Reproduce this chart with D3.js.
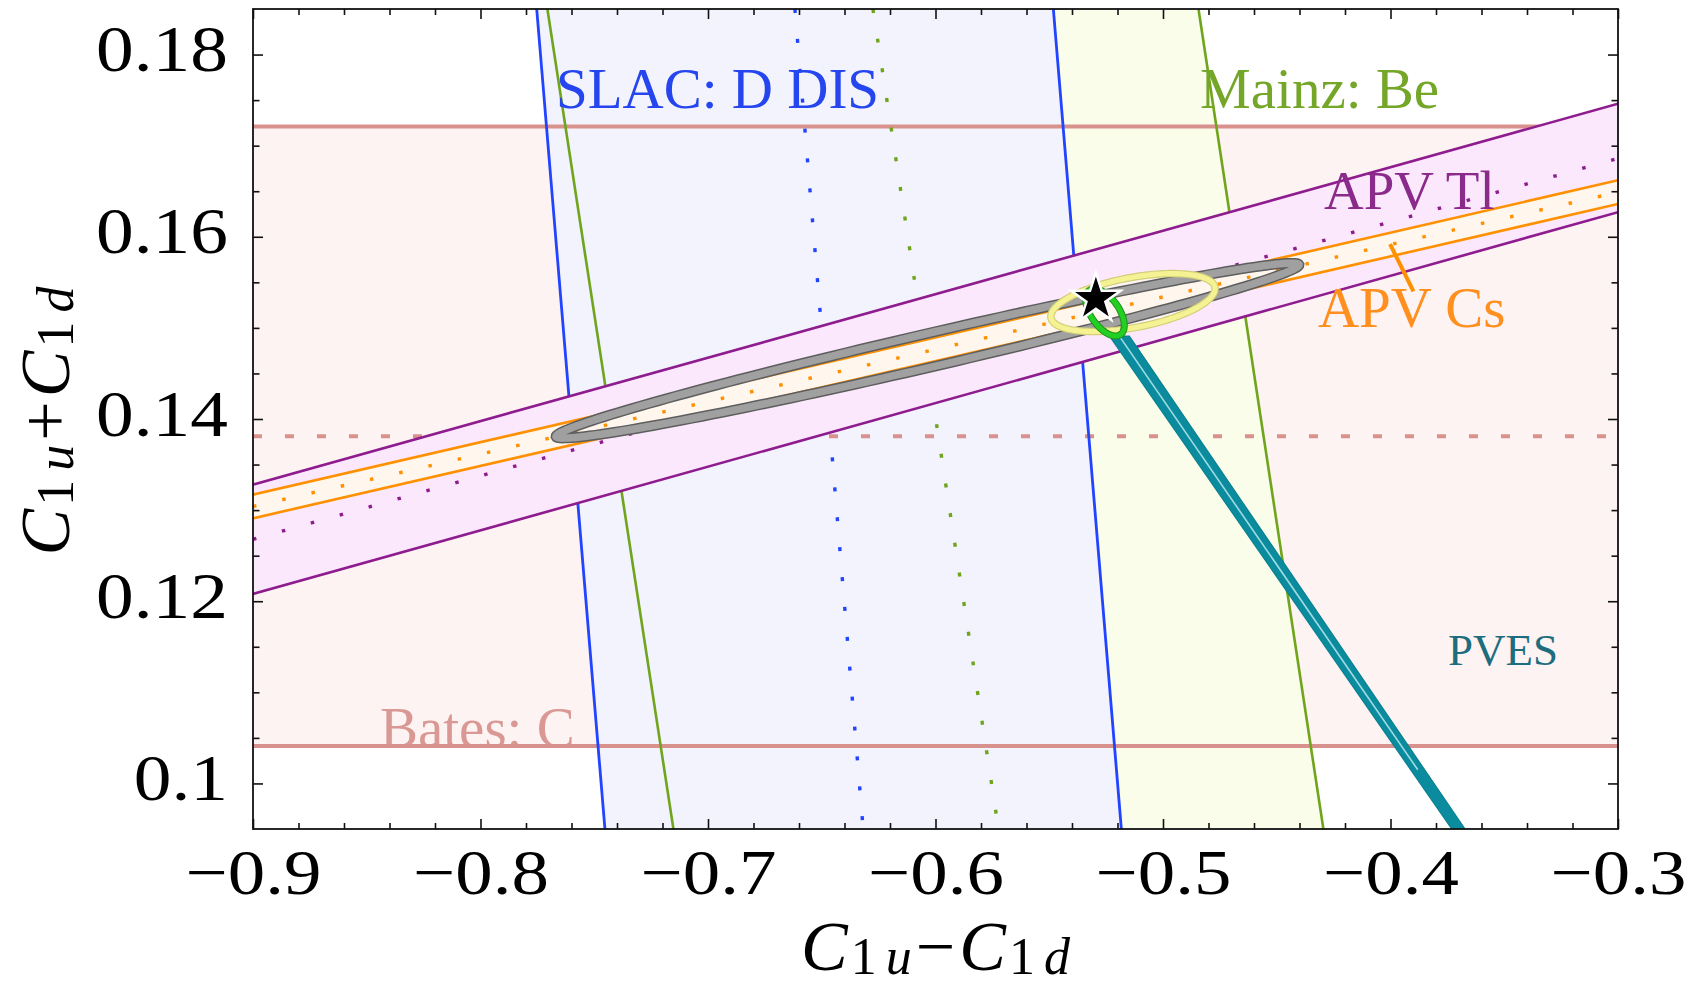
<!DOCTYPE html>
<html><head><meta charset="utf-8">
<script src="https://cdn.jsdelivr.net/npm/d3@7"></script>
<style>body{margin:0;background:#fff}svg{display:block}</style>
</head><body>
<svg id="chart" width="1706" height="985"></svg>
<script>
// ---------------- data ----------------
const xDomain = [-0.9, -0.3];
const yDomain = [0.095, 0.185];
const xTicks = [-0.9, -0.8, -0.7, -0.6, -0.5, -0.4, -0.3];
const xTickLabels = ["\u22120.9", "\u22120.8", "\u22120.7", "\u22120.6", "\u22120.5", "\u22120.4", "\u22120.3"];
const yTicks = [0.10, 0.12, 0.14, 0.16, 0.18];
const yTickLabels = ["0.1", "0.12", "0.14", "0.16", "0.18"];

// Bates: C  (horizontal band in C1u+C1d)
const batesBounds = [0.1041, 0.1721];
const batesCenter = 0.1381;
// SLAC: D DIS
const slacLeft = [[-0.7753, 0.185], [-0.7453, 0.095]];
const slacRight = [[-0.5482, 0.185], [-0.5183, 0.095]];
const slacCenter = [[-0.6618, 0.185], [-0.6318, 0.095]];
// Mainz: Be
const mainzLeft = [[-0.7706, 0.185], [-0.7152, 0.095]];
const mainzRight = [[-0.4844, 0.185], [-0.4295, 0.095]];
const mainzCenter = [[-0.6275, 0.185], [-0.5723, 0.095]];
// APV Tl
const apvT1Upper = [[-0.9, 0.1328], [-0.3, 0.1746]];
const apvT1Lower = [[-0.9, 0.1208], [-0.3, 0.1627]];
const apvT1Center = [[-0.9, 0.1268], [-0.3, 0.1686]];
// APV Cs
const apvCsUpper = [[-0.9, 0.1317], [-0.3, 0.1662]];
const apvCsLower = [[-0.9, 0.1291], [-0.3, 0.1636]];
const apvCsCenter = [[-0.9, 0.1304], [-0.3, 0.1649]];
const apvCsPointer = [[-0.4002, 0.1592], [-0.3899, 0.1540]];
// PVES
const pvesLeft = [[-0.5235, 0.1491], [-0.3675, 0.093]];
const pvesRight = [[-0.5148, 0.1491], [-0.3618, 0.093]];
const pvesCenter = [[-0.5192, 0.1491], [-0.3880, 0.1015]];
// fit ellipses: centre, semi-major vector, semi-minor vector
const fitAll = {cx: -0.6035, cy: 0.1475, ax: 0.1633, ay: 0.00943, bx: 0.00166, by: -0.0018};
const fitYellow = {cx: -0.5132, cy: 0.15278, ax: 0.03604, ay: 0.00168, bx: 0.00201, by: -0.0027};
const fitGreen = {cx: -0.5255, cy: 0.1517, ax: 0.00681, ay: -0.00243, bx: -0.00504, by: -0.00088};
// Standard Model point
const smPoint = [-0.5295, 0.1532];
// labels
const labelTexts = ["SLAC: D DIS", "Mainz: Be", "APV Tl", "APV Cs", "Bates: C", "PVES"];
const labelX = [-0.7668, -0.4837, -0.4292, -0.4319, -0.8442, -0.3747];
const labelY = [0.1741, 0.1741, 0.1631, 0.1501, 0.1040, 0.1130];

// ---------------- styles ----------------
const col = {
  batesLine: "#d9918e", batesFill: "#fdf3f2", batesText: "#d99893",
  slacLine: "#2244ff", slacFill: "#f2f3fd", slacText: "#2545ee",
  mainzLine: "#6fa41c", mainzFill: "#f9fdea", mainzText: "#74a628",
  t1Line: "#8e1c8e", t1Fill: "#fce8fc", t1Text: "#8a2a8a",
  csLine: "#ff9000", csFill: "#fff7ee", csText: "#ff8f1f",
  ellFill: "#fdf6f3", teal: "#0b8c9e", tealLight: "#9fdbe3", pvesText: "#1e6d7e"
};
const labelColors = [col.slacText, col.mainzText, col.t1Text, col.csText, col.batesText, col.pvesText];
const labelSizes = [57, 57, 55, 57, 57, 45];
const FONT = "'Liberation Serif', 'Times New Roman', serif";

const m = {left: 253, right: 1618, top: 9, bottom: 829};
const x = d3.scaleLinear().domain(xDomain).range([m.left, m.right]);
const y = d3.scaleLinear().domain(yDomain).range([m.bottom, m.top]);

const svg = d3.select("#chart");
svg.append("defs").append("clipPath").attr("id", "plotclip")
  .append("rect").attr("x", m.left).attr("y", m.top)
  .attr("width", m.right - m.left).attr("height", m.bottom - m.top);

const plot = svg.append("g").attr("clip-path", "url(#plotclip)");
const line = d3.line().x(d => x(d[0])).y(d => y(d[1]));
const poly = (a, b) => line(a.concat(b.slice().reverse())) + "Z";
const ellPts = e => d3.range(0, 361, 2).map(t => {
  const r = t * Math.PI / 180;
  return [e.cx + e.ax * Math.cos(r) + e.bx * Math.sin(r), e.cy + e.ay * Math.cos(r) + e.by * Math.sin(r)];
});
const closed = d3.line().x(d => x(d[0])).y(d => y(d[1])).curve(d3.curveLinearClosed);

// ---- fills of vertical / horizontal bands ----
plot.append("rect").attr("x", x(xDomain[0])).attr("width", x(xDomain[1]) - x(xDomain[0]))
  .attr("y", y(batesBounds[1])).attr("height", y(batesBounds[0]) - y(batesBounds[1]))
  .attr("fill", col.batesFill);
plot.append("path").attr("d", poly(mainzLeft, mainzRight)).attr("fill", col.mainzFill);
plot.append("path").attr("d", poly(slacLeft, slacRight)).attr("fill", col.slacFill);

function addLabel(i, parent) {
  parent.append("text").attr("x", x(labelX[i])).attr("y", y(labelY[i]))
    .attr("font-family", FONT).attr("font-size", labelSizes[i])
    .attr("fill", labelColors[i]).text(labelTexts[i]);
}
addLabel(4, plot);

// Bates lines
batesBounds.forEach(v => plot.append("path")
  .attr("d", line([[xDomain[0], v], [xDomain[1], v]]))
  .attr("stroke", col.batesLine).attr("stroke-width", 4).attr("fill", "none"));
plot.append("path").attr("d", line([[xDomain[0], batesCenter], [xDomain[1], batesCenter]]))
  .attr("stroke", col.batesLine).attr("stroke-width", 4).attr("stroke-dasharray", "9,23").attr("fill", "none");

// Mainz lines
[mainzLeft, mainzRight].forEach(l => plot.append("path").attr("d", line(l))
  .attr("stroke", col.mainzLine).attr("stroke-width", 2.6).attr("fill", "none"));
plot.append("path").attr("d", line(mainzCenter)).attr("stroke", col.mainzLine)
  .attr("stroke-width", 3.4).attr("stroke-dasharray", "4,26").attr("fill", "none");
// SLAC lines
[slacLeft, slacRight].forEach(l => plot.append("path").attr("d", line(l))
  .attr("stroke", col.slacLine).attr("stroke-width", 2.8).attr("fill", "none"));
plot.append("path").attr("d", line(slacCenter)).attr("stroke", col.slacLine)
  .attr("stroke-width", 3.4).attr("stroke-dasharray", "4,26").attr("fill", "none");

addLabel(0, plot);
addLabel(1, plot);

// ---- APV Tl band ----
plot.append("path").attr("d", poly(apvT1Upper, apvT1Lower)).attr("fill", col.t1Fill);
[apvT1Upper, apvT1Lower].forEach(l => plot.append("path").attr("d", line(l))
  .attr("stroke", col.t1Line).attr("stroke-width", 2.6).attr("fill", "none"));
plot.append("path").attr("d", line(apvT1Center)).attr("stroke", col.t1Line)
  .attr("stroke-width", 3.4).attr("stroke-dasharray", "3.5,26.5").attr("fill", "none");

// ---- ellipse interiors ----
plot.append("path").attr("d", closed(ellPts(fitAll))).attr("fill", col.ellFill);
plot.append("path").attr("d", closed(ellPts(fitYellow))).attr("fill", col.ellFill);

// ---- APV Cs band ----
plot.append("path").attr("d", poly(apvCsUpper, apvCsLower)).attr("fill", col.csFill);
[apvCsUpper, apvCsLower].forEach(l => plot.append("path").attr("d", line(l))
  .attr("stroke", col.csLine).attr("stroke-width", 2.6).attr("fill", "none"));
plot.append("path").attr("d", line(apvCsCenter)).attr("stroke", col.csLine)
  .attr("stroke-width", 3.4).attr("stroke-dasharray", "3.5,26.5").attr("fill", "none");

// ---- ellipse outlines ----
plot.append("path").attr("d", closed(ellPts(fitAll))).attr("fill", "none")
  .attr("stroke", "#5e5e5e").attr("stroke-width", 10.5);
plot.append("path").attr("d", closed(ellPts(fitAll))).attr("fill", "none")
  .attr("stroke", "#a0a0a0").attr("stroke-width", 7.5);
plot.append("path").attr("d", closed(ellPts(fitYellow))).attr("fill", "none")
  .attr("stroke", "#d2cd78").attr("stroke-width", 7.5);
plot.append("path").attr("d", closed(ellPts(fitYellow))).attr("fill", "none")
  .attr("stroke", "#f4f292").attr("stroke-width", 5.2);

// ---- PVES band ----
plot.append("path").attr("d", poly(pvesLeft, pvesRight)).attr("fill", col.teal)
  .attr("stroke", "#0a8193").attr("stroke-width", 1.2);
plot.append("path").attr("d", line(pvesCenter)).attr("stroke", col.tealLight)
  .attr("stroke-width", 1.6).attr("fill", "none");

// ---- green ellipse ----
plot.append("path").attr("d", closed(ellPts(fitGreen))).attr("fill", "none")
  .attr("stroke", "#1f8f1f").attr("stroke-width", 7);
plot.append("path").attr("d", closed(ellPts(fitGreen))).attr("fill", "none")
  .attr("stroke", "#22d022").attr("stroke-width", 5);

// ---- SM star ----
plot.append("path").attr("d", d3.symbol(d3.symbolStar, 760)())
  .attr("transform", `translate(${x(smPoint[0])},${y(smPoint[1])})`)
  .attr("fill", "#000").attr("stroke", "#fff").attr("stroke-width", 2.5);

// ---- labels ----
addLabel(2, plot);
addLabel(3, plot);
addLabel(5, plot);
plot.append("path").attr("d", line(apvCsPointer)).attr("stroke", col.csLine)
  .attr("stroke-width", 4).attr("fill", "none");

// ---------------- axes ----------------
const minorX = d3.range(0, 31).map(i => +(xDomain[0] + i * 0.02).toFixed(3)).filter(v => !xTicks.some(t => Math.abs(t - v) < 1e-6));
const minorY = d3.range(0, 19).map(i => +(0.095 + i * 0.005).toFixed(4)).filter(v => v > 0.0951 && v < 0.1849 && !yTicks.some(t => Math.abs(t - v) < 1e-6));

function axisGroup(axis, tr) {
  const g = svg.append("g").attr("transform", tr).call(axis);
  g.select(".domain").remove();
  g.selectAll(".tick line").attr("stroke", "#111").attr("stroke-width", 1.6);
  return g;
}
const gb = axisGroup(d3.axisBottom(x).tickValues(xTicks).tickSize(-10).tickFormat((d, i) => xTickLabels[i]), `translate(0,${m.bottom})`);
gb.selectAll(".tick text").attr("y", 0).attr("dy", null)
  .attr("transform", "translate(0,65) scale(1.17,1)")
  .attr("font-family", FONT).attr("font-size", 64).attr("fill", "#000").attr("text-anchor", "middle");
axisGroup(d3.axisBottom(x).tickValues(minorX).tickSize(-6).tickFormat(""), `translate(0,${m.bottom})`);
axisGroup(d3.axisTop(x).tickValues(xTicks).tickSize(-10).tickFormat(""), `translate(0,${m.top})`);
axisGroup(d3.axisTop(x).tickValues(minorX).tickSize(-6).tickFormat(""), `translate(0,${m.top})`);
const gl = axisGroup(d3.axisLeft(y).tickValues(yTicks).tickSize(-10).tickFormat((d, i) => yTickLabels[i]), `translate(${m.left},0)`);
gl.selectAll(".tick text").attr("x", 0).attr("dy", null)
  .attr("transform", "translate(-25,16) scale(1.16,1)")
  .attr("font-family", FONT).attr("font-size", 65).attr("fill", "#000").attr("text-anchor", "end");
axisGroup(d3.axisLeft(y).tickValues(minorY).tickSize(-6.5).tickFormat(""), `translate(${m.left},0)`);
axisGroup(d3.axisRight(y).tickValues(yTicks).tickSize(-10).tickFormat(""), `translate(${m.right},0)`);
axisGroup(d3.axisRight(y).tickValues(minorY).tickSize(-6.5).tickFormat(""), `translate(${m.right},0)`);

svg.append("rect").attr("x", m.left).attr("y", m.top)
  .attr("width", m.right - m.left).attr("height", m.bottom - m.top)
  .attr("fill", "none").attr("stroke", "#111").attr("stroke-width", 1.8);

// axis titles
function mathLabel(g, op) {
  const t = g.append("text").attr("font-family", FONT).attr("font-size", 70)
    .attr("fill", "#000").attr("text-anchor", "middle");
  t.append("tspan").attr("font-style", "italic").text("C");
  t.append("tspan").attr("font-size", 52).attr("dy", 4).attr("dx", 3).text("1");
  t.append("tspan").attr("font-size", 52).attr("font-style", "italic").attr("dx", 9).text("u");
  t.append("tspan").attr("dy", -4).attr("dx", 4).text(op);
  t.append("tspan").attr("font-style", "italic").attr("dx", 4).text("C");
  t.append("tspan").attr("font-size", 52).attr("dy", 4).attr("dx", 3).text("1");
  t.append("tspan").attr("font-size", 52).attr("font-style", "italic").attr("dx", 9).text("d");
}
mathLabel(svg.append("g").attr("transform", `translate(${(m.left + m.right) / 2},970)`), "\u2212");
mathLabel(svg.append("g").attr("transform", `translate(69,${(m.top + m.bottom) / 2 + 2}) rotate(-90)`), "+");
</script>
</body></html>
